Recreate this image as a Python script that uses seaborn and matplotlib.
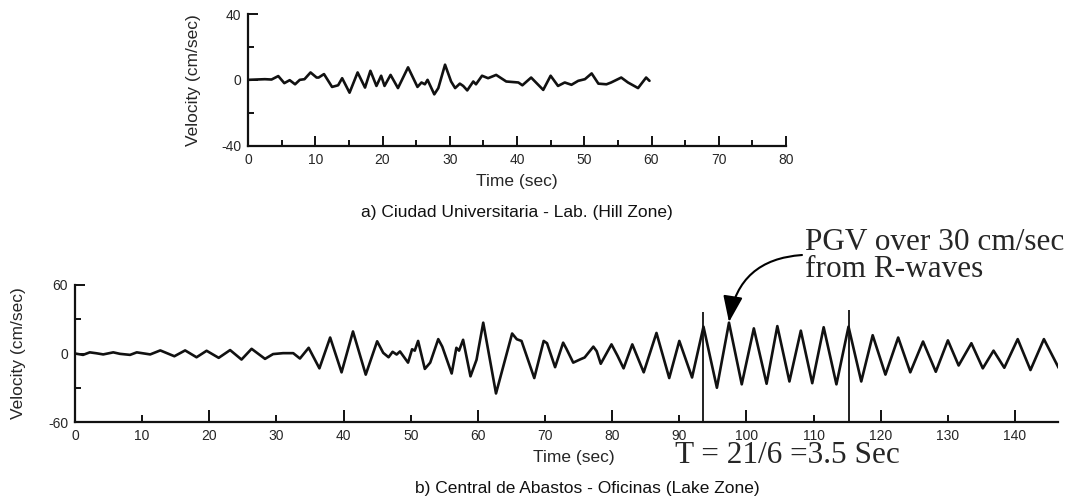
import matplotlib
matplotlib.use("Agg")
import matplotlib.pyplot as plt
from matplotlib.ticker import FixedLocator
import pandas as pd
import seaborn as sns

# a) Ciudad Universitaria - Lab. (Hill Zone)
top_time = [0, 2.5, 3.5, 4.5, 5.4, 6.2, 7.0, 7.7, 8.4, 9.3,
            10.2, 10.5, 11.3, 12.5, 13.4, 14.0, 15.1, 16.3, 17.4, 18.2,
            19.1, 19.8, 20.3, 21.2, 22.3, 23.8, 25.2, 25.8, 26.3, 26.7,
            27.7, 28.3, 29.3, 30.2, 30.8, 31.5, 32.0, 32.6, 33.5, 33.9,
            34.8, 35.7, 36.9, 38.4, 40.2, 40.8, 42.1, 43.9, 45.0, 46.1,
            47.1, 48.1, 49.1, 50.1, 51.1, 52.1, 53.3, 54.0, 55.5, 56.5,
            58.0, 59.2, 59.7]
top_vel = [0, 0.4, 0.2, 2.3, -2.0, -0.2, -2.7, 0, 0.4, 4.5,
           1.4, 1.4, 3.5, -4.3, -3.3, 1.0, -7.8, 4.5, -4.7, 5.5,
           -3.7, 2.5, -3.7, 3.0, -5.0, 7.6, -4.3, -1.6, -2.7, 0.0,
           -8.8, -5.0, 9.2, -1.0, -5.0, -2.3, -3.7, -6.4, -1.0, -2.7,
           2.5, 1.0, 3.0, -1.0, -1.6, -3.3, 1.4, -6.1, 2.5, -3.7,
           -1.6, -3.0, -0.6, 0.4, 3.9, -2.3, -2.7, -1.6, 1.4, -1.6,
           -5.0, 1.4, -0.6]

# b) Central de Abastos - Oficinas (Lake Zone)
bottom_time = [0, 1.2, 2.2, 3.2, 4.2, 5.7, 6.7, 8.2, 9.2, 11.2,
               12.7, 14.8, 16.4, 18.1, 19.6, 21.4, 23.1, 24.8, 26.3, 28.3,
               29.5, 31.0, 32.5, 33.5, 34.8, 36.4, 38.0, 39.7, 41.4, 43.3,
               45.0, 45.9, 46.7, 47.3, 47.9, 48.4, 49.6, 50.2, 50.6, 51.1,
               52.1, 52.9, 54.1, 54.7, 56.1, 56.8, 57.2, 57.8, 58.9, 59.8,
               60.8, 62.7, 65.1, 65.8, 66.5, 68.4, 69.8, 70.3, 71.5, 72.7,
               73.2, 74.2, 75.3, 75.9, 77.2, 77.7, 78.3, 79.9, 80.8, 81.7,
               83.0, 84.7, 86.6, 88.5, 90.0, 91.9, 93.6, 95.6, 97.4, 99.3,
               101.1, 103.0, 104.6, 106.4, 108.1, 109.8, 111.5, 113.4, 115.2, 117.1,
               118.8, 120.7, 122.6, 124.4, 126.3, 128.2, 130.0, 131.6, 133.5, 135.2,
               136.8, 138.4, 140.4, 142.3, 144.3, 146.5]
bottom_vel = [0, -1.2, 1.0, 0.2, -0.8, 1.0, -0.3, -1.2, 1.0, -0.8,
              2.7, -2.4, 2.7, -3.3, 2.4, -3.8, 3.0, -5.3, 4.1, -4.7,
              -0.5, 0.3, 0.3, -4.4, 5.0, -13.0, 14.0, -16.5, 19.3, -18.5,
              10.7, 0.6, -3.3, 1.5, -0.9, 1.8, -8.0, 3.7, 2.5, 11.0,
              -13.5, -8.0, 12.6, 6.0, -17.5, 5.0, 2.5, 12.0, -20.0, -5.5,
              27.0, -35.0, 17.5, 12.5, 11.0, -21.5, 11.0, 9.0, -12.0, 9.5,
              4.0, -8.0, -5.0, -3.5, 6.0, 2.0, -9.0, 8.0, -2.0, -13.0,
              8.0, -16.5, 18.0, -21.5, 11.0, -21.0, 23.5, -30.0, 27.0, -27.0,
              22.0, -26.5, 24.0, -24.5, 20.0, -26.0, 23.0, -27.0, 23.5, -24.5,
              16.0, -18.5, 14.0, -16.5, 10.5, -16.0, 11.5, -10.5, 9.0, -13.0,
              2.5, -12.5, 12.6, -14.5, 12.6, -12.6]

# period markers and the peak the arrow points to
period_marks = [93.6, 115.2]
period_mark_tops = [36, 38]
pgv_time, pgv_vel = 97.4, 27.5

top_df = pd.DataFrame({"time": top_time, "vel": top_vel})
bottom_df = pd.DataFrame({"time": bottom_time, "vel": bottom_vel})

sns.set_style("ticks")
plt.rcParams["font.family"] = ["Liberation Sans", "DejaVu Sans"]
plt.rcParams["axes.unicode_minus"] = False

W, H = 1076, 503
fig = plt.figure(figsize=(W / 100, H / 100), dpi=100)


def px_axes(left, top, right, bottom):
    return fig.add_axes([left / W, 1 - bottom / H, (right - left) / W, (bottom - top) / H])


ax1 = px_axes(248, 14, 786, 145.7)
ax2 = px_axes(75, 285, 1058, 422)

for ax, df in [(ax1, top_df), (ax2, bottom_df)]:
    sns.lineplot(data=df, x="time", y="vel", ax=ax, color="#111111",
                 lw=1.9, estimator=None, sort=False)
    ax.lines[0].set_solid_joinstyle("round")
    sns.despine(ax=ax)
    for s in ["left", "bottom"]:
        ax.spines[s].set_linewidth(1.6)
        ax.spines[s].set_color("#111111")
    ax.tick_params(which="both", direction="in", width=1.4, color="#111111",
                   labelsize=10, pad=5)
    ax.tick_params(which="major", length=7)
    ax.tick_params(which="minor", length=4)
    ax.set_xlabel("Time (sec)", fontsize=12.5)
    ax.set_ylabel("Velocity (cm/sec)", fontsize=12.5)

# top panel axes
ax1.set_xlim(0, 80)
ax1.set_ylim(-40, 40)
ax1.xaxis.set_major_locator(FixedLocator(list(range(0, 90, 10))))
ax1.xaxis.set_minor_locator(FixedLocator(list(range(5, 80, 10))))
ax1.yaxis.set_major_locator(FixedLocator([-40, 0, 40]))
ax1.yaxis.set_minor_locator(FixedLocator([-20, 20]))
ax1.yaxis.set_label_coords(-0.087, 0.5)
ax1.xaxis.set_label_coords(0.5, -0.215)

# bottom panel axes
ax2.set_xlim(0, 146.4)
ax2.set_ylim(-60, 60)
ax2.xaxis.set_major_locator(FixedLocator(list(range(0, 150, 10))))
ax2.yaxis.set_major_locator(FixedLocator([-60, 0, 60]))
ax2.yaxis.set_minor_locator(FixedLocator([-30, 30]))
ax2.tick_params(axis="x", which="major", length=5)
for tick, loc in zip(ax2.xaxis.get_major_ticks(), ax2.get_xticks()):
    if loc % 20 == 0:
        tick.tick1line.set_markersize(9)
ax2.yaxis.set_label_coords(-0.050, 0.5)
ax2.xaxis.set_label_coords(0.507, -0.205)

# period markers T
ax2.vlines(period_marks, -60, period_mark_tops, colors="#111111", lw=1.3)

serif = ["Liberation Serif", "DejaVu Serif"]
fig.text(675 / W, 1 - 463 / H, "T = 21/6 =3.5 Sec", family=serif, fontsize=22.5,
         ha="left", va="baseline")
fig.text(805 / W, 1 - 250 / H, "PGV over 30 cm/sec", family=serif, fontsize=22.5,
         ha="left", va="baseline")
fig.text(805 / W, 1 - 277 / H, "from R-waves", family=serif, fontsize=22.5,
         ha="left", va="baseline")
ax2.annotate("", xy=(pgv_time, pgv_vel), xycoords="data",
             xytext=(802 / W, 1 - 255 / H), textcoords="figure fraction",
             arrowprops=dict(arrowstyle="-|>,head_length=0.8,head_width=0.3",
                             connectionstyle="arc3,rad=0.4", color="black",
                             lw=1.5, shrinkA=0, shrinkB=0, mutation_scale=20))

# captions
fig.text(517 / W, 1 - 212 / H, "a) Ciudad Universitaria - Lab. (Hill Zone)",
         fontsize=12.5, ha="center", va="center", color="#111111")
fig.text(587 / W, 1 - 488 / H, "b) Central de Abastos - Oficinas (Lake Zone)",
         fontsize=12.5, ha="center", va="center", color="#111111")

fig.savefig("out.png", dpi=100)
